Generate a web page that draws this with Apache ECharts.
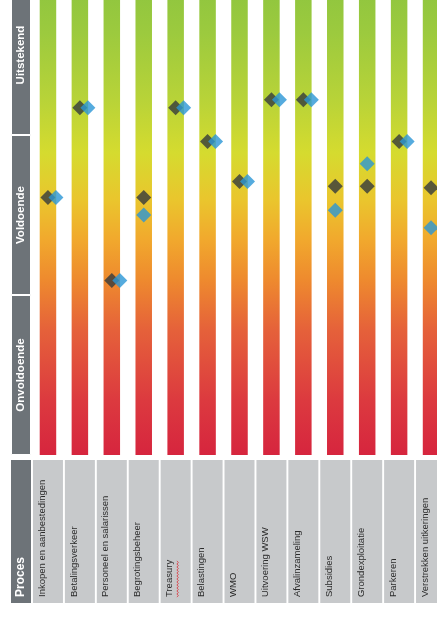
<!DOCTYPE html>
<html>
<head>
<meta charset="utf-8">
<script src="https://cdn.jsdelivr.net/npm/echarts@6/dist/echarts.min.js"></script>
<style>
  html, body { margin: 0; padding: 0; background: #ffffff; }
  #chart { width: 437px; height: 622px; }
</style>
</head>
<body>
<div id="chart"></div>
<script>
// Processes shown as columns, left to right
const processes = [
  'Inkopen en aanbestedingen', 'Betalingsverkeer', 'Personeel en salarissen',
  'Begrotingsbeheer', 'Treasury', 'Belastingen', 'WMO', 'Uitvoering WSW',
  'Afvalinzameling', 'Subsidies', 'Grondexploitatie', 'Parkeren',
  'Verstrekken uitkeringen'
];
// Rating bands, bottom to top (one unit each on the value scale)
const levels = ['Onvoldoende', 'Voldoende', 'Uitstekend'];
const headerTitle = 'Proces';
// Scores on the 0-3 band scale
const scoreDark = [1.61, 2.17, 1.09, 1.61, 2.17, 1.96, 1.71, 2.22, 2.22, 1.68, 1.68, 1.96, 1.67];
const scoreBlue = [1.61, 2.17, 1.09, 1.50, 2.17, 1.96, 1.71, 2.22, 2.22, 1.53, 1.82, 1.96, 1.42];
// Name that carries a wavy red underline
const underlined = 'Treasury';

const chart = echarts.init(document.getElementById('chart'), null, { renderer: 'canvas' });

const plotLeft = 32, plotWidth = 415;       // columns run past the right edge
const plotTop = -25, plotHeight = 480;      // top band runs past the top edge
const labelTop = 460, labelHeight = 143;
const headLeft = 11, headWidth = 20;
const labelPad = 6;

const sans = '"Liberation Sans", Arial, sans-serif';

const scaleGradient = new echarts.graphic.LinearGradient(0, 0, 0, 1, [
  { offset: 0.00, color: '#8bc43f' },
  { offset: 0.12, color: '#9cca3e' },
  { offset: 0.26, color: '#b8d338' },
  { offset: 0.37, color: '#d5db2f' },
  { offset: 0.47, color: '#eac52d' },
  { offset: 0.55, color: '#f1a92d' },
  { offset: 0.635, color: '#ee8a2e' },
  { offset: 0.74, color: '#e5613a' },
  { offset: 0.885, color: '#dc3a3f' },
  { offset: 1.00, color: '#d6253e' }
]);

const hiddenAxis = { show: false };
const freeGrid = { outerBoundsMode: 'none', containLabel: false };

const option = {
  animation: false,
  backgroundColor: '#ffffff',
  grid: [
    { left: plotLeft, width: plotWidth, top: plotTop, height: plotHeight, ...freeGrid },
    { left: plotLeft, width: plotWidth, top: labelTop, height: labelHeight, ...freeGrid },
    { left: headLeft, width: headWidth, top: plotTop, height: plotHeight, ...freeGrid },
    { left: headLeft, width: headWidth, top: labelTop, height: labelHeight, ...freeGrid }
  ],
  xAxis: [
    { type: 'category', gridIndex: 0, data: processes, ...hiddenAxis },
    { type: 'category', gridIndex: 1, data: processes, ...hiddenAxis },
    { type: 'category', gridIndex: 2, data: ['band'], ...hiddenAxis },
    { type: 'category', gridIndex: 3, data: [headerTitle], ...hiddenAxis }
  ],
  yAxis: [
    { type: 'value', gridIndex: 0, min: 0, max: levels.length, ...hiddenAxis },
    { type: 'value', gridIndex: 1, min: 0, max: 1, ...hiddenAxis },
    { type: 'value', gridIndex: 2, min: 0, max: levels.length, ...hiddenAxis },
    { type: 'value', gridIndex: 3, min: 0, max: 1, ...hiddenAxis }
  ],
  series: [
    // Gradient scale column per process
    {
      type: 'bar', xAxisIndex: 0, yAxisIndex: 0,
      data: processes.map(() => levels.length),
      barWidth: 16.5,
      itemStyle: { color: scaleGradient },
      silent: true, z: 1
    },
    // Dark diamonds
    {
      name: 'scoreDark', type: 'scatter', xAxisIndex: 0, yAxisIndex: 0,
      data: scoreDark,
      symbol: 'diamond', symbolSize: 15,
      itemStyle: { color: '#353a3c' },
      z: 3
    },
    // Blue diamonds, nudged right where they coincide with the dark one
    {
      name: 'scoreBlue', type: 'scatter', xAxisIndex: 0, yAxisIndex: 0,
      data: scoreBlue.map((v, i) => ({
        value: v,
        symbolOffset: v === scoreDark[i] ? [8, 0] : [0, 0]
      })),
      symbol: 'diamond', symbolSize: 15,
      itemStyle: { color: '#2b96d6' },
      z: 4
    },
    // Grey name boxes under the columns
    {
      type: 'bar', xAxisIndex: 1, yAxisIndex: 1,
      data: processes.map(() => 1),
      barWidth: 30,
      itemStyle: { color: '#c7c9cb' },
      label: {
        show: true, position: 'insideBottom', rotate: 90,
        align: 'left', verticalAlign: 'middle',
        distance: labelPad, offset: [0, -6],
        formatter: p => p.name,
        fontFamily: sans, fontSize: 9.5, color: '#2b2b2b'
      },
      silent: true
    },
    // Band headers on the left
    ...levels.map(name => ({
      type: 'bar', xAxisIndex: 2, yAxisIndex: 2, stack: 'bands',
      name, data: [1], barWidth: headWidth,
      itemStyle: { color: '#6d7378', borderColor: '#ffffff', borderWidth: 1 },
      label: {
        show: true, position: 'inside', rotate: 90,
        formatter: name,
        fontFamily: sans, fontSize: 11.5, fontWeight: 'bold', color: '#ffffff'
      },
      silent: true
    })),
    // Column-header box for the process names
    {
      type: 'bar', xAxisIndex: 3, yAxisIndex: 3,
      data: [1], barWidth: headWidth,
      itemStyle: { color: '#6d7378' },
      label: {
        show: true, position: 'insideBottom', rotate: 90,
        align: 'left', verticalAlign: 'middle', distance: labelPad,
        formatter: headerTitle,
        fontFamily: sans, fontSize: 12, fontWeight: 'bold', color: '#ffffff'
      },
      silent: true
    }
  ]
};

chart.setOption(option);

// Wavy red underline beside the rotated name, placed from the axis position
const idx = processes.indexOf(underlined);
if (idx >= 0) {
  const base = chart.convertToPixel({ xAxisIndex: 1, yAxisIndex: 1 }, [idx, 0]);
  const x0 = base[0] + 2;
  const yStart = base[1] - labelPad;
  const len = echarts.format.getTextRect
    ? echarts.format.getTextRect(underlined, '9.5px ' + sans).width
    : 36;
  const pts = [];
  for (let d = 0, k = 0; d <= len; d += 1.5, k++) {
    pts.push([x0 + (k % 2 ? 0.8 : -0.8), yStart - d]);
  }
  chart.setOption({
    graphic: [{
      type: 'polyline', silent: true, z: 100,
      shape: { points: pts },
      style: { stroke: '#d8434c', lineWidth: 0.9, fill: null }
    }]
  });
}
</script>
</body>
</html>
